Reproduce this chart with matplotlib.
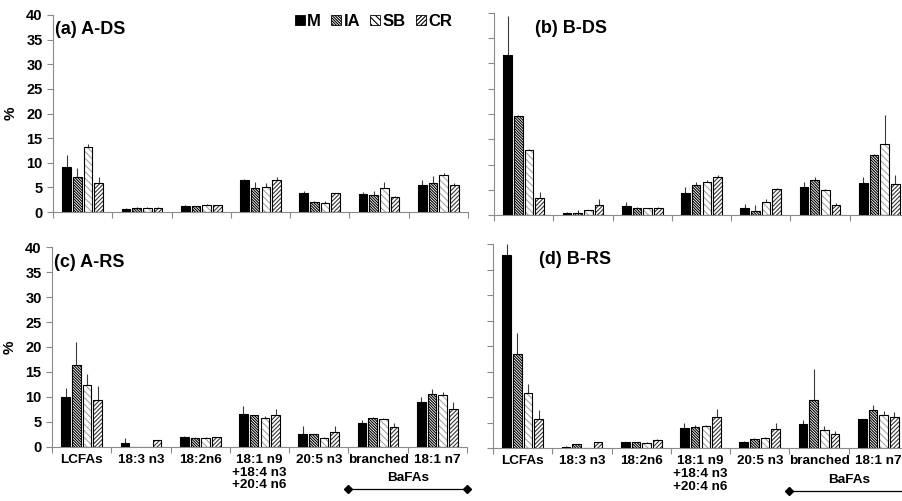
import numpy as np
import matplotlib.pyplot as plt
from matplotlib.patches import Patch

plt.rcParams['font.family'] = ['Liberation Sans', 'DejaVu Sans']
plt.rcParams['font.weight'] = 'bold'
plt.rcParams['hatch.linewidth'] = 0.8

# fatty acid groups on the x axis
categories = ['LCFAs', '18:3 n3', '18:2n6', '18:1 n9\n+18:4 n3\n+20:4 n6',
              '20:5 n3', 'branched', '18:1 n7']
series = ['M', 'IA', 'SB', 'CR']

# (a) A-DS
a_vals = {'M':  [9.2, 0.7, 1.3, 6.4, 3.8, 3.7, 5.4],
          'IA': [7.2, 0.9, 1.2, 4.8, 2.1, 3.5, 5.8],
          'SB': [13.1, 0.9, 1.4, 5.1, 1.8, 4.9, 7.6],
          'CR': [5.9, 0.9, 1.4, 6.5, 3.8, 3.1, 5.4]}
a_errs = {'M':  [2.4, 0.1, 0.2, 0.2, 0.5, 0.4, 1.0],
          'IA': [1.8, 0.1, 0.1, 1.3, 0.1, 0.8, 1.6],
          'SB': [0.7, 0.1, 0.2, 0.8, 0.4, 1.1, 0.4],
          'CR': [1.3, 0.1, 0.1, 0.6, 0.1, 0.1, 0.5]}

# (b) B-DS
b_vals = {'M':  [31.6, 0.4, 1.7, 4.3, 1.3, 5.6, 6.3],
          'IA': [19.7, 0.4, 1.4, 6.0, 0.7, 6.9, 11.9],
          'SB': [12.8, 0.9, 1.3, 6.6, 2.6, 5.0, 14.0],
          'CR': [3.3, 1.9, 1.4, 7.5, 5.2, 1.9, 6.1]}
b_errs = {'M':  [7.9, 0.1, 0.9, 1.2, 0.8, 0.9, 1.3],
          'IA': [0.2, 0.6, 0.1, 0.6, 1.3, 0.7, 0.1],
          'SB': [0.3, 0.1, 0.1, 0.4, 0.6, 0.1, 5.8],
          'CR': [1.3, 1.3, 0.1, 0.5, 0.1, 0.5, 1.8]}

# (c) A-RS
c_vals = {'M':  [9.9, 0.7, 1.9, 6.6, 2.5, 4.8, 8.9],
          'IA': [16.3, 0.0, 1.8, 6.3, 2.5, 5.7, 10.6],
          'SB': [12.4, 0.0, 1.8, 5.8, 1.8, 5.6, 10.3],
          'CR': [9.3, 1.3, 1.9, 6.4, 3.0, 3.9, 7.5]}
c_errs = {'M':  [1.9, 1.1, 0.2, 1.6, 1.6, 0.5, 1.0],
          'IA': [4.7, 0.0, 0.1, 0.1, 0.1, 0.2, 0.9],
          'SB': [2.2, 0.0, 0.1, 0.3, 0.1, 0.2, 0.7],
          'CR': [2.9, 0.1, 0.1, 1.2, 1.1, 0.9, 1.5]}

# (d) B-RS
d_vals = {'M':  [37.8, 0.2, 1.1, 3.9, 1.2, 4.7, 5.6],
          'IA': [18.4, 0.7, 1.1, 4.2, 1.8, 9.5, 7.5],
          'SB': [10.7, 0.0, 1.0, 4.4, 2.0, 3.5, 6.5],
          'CR': [5.6, 1.1, 1.6, 6.1, 3.7, 2.8, 6.0]}
d_errs = {'M':  [2.2, 0.1, 0.1, 1.1, 0.1, 0.7, 0.1],
          'IA': [4.1, 0.1, 0.1, 0.4, 0.1, 6.0, 1.0],
          'SB': [1.9, 0.0, 0.1, 0.1, 0.1, 0.9, 0.8],
          'CR': [1.8, 0.1, 0.1, 1.6, 1.3, 0.6, 1.0]}

# fill / hatch style per series
styles = {'M':  dict(fc='black', hatch=None, hc='black'),
          'IA': dict(fc='white', hatch='\\' * 12, hc='black'),
          'SB': dict(fc='white', hatch='\\' * 5, hc='#a8a8a8'),
          'CR': dict(fc='white', hatch='/' * 8, hc='#383838')}

axis_col = '#8a8a8a'
W = 903.0
H = 501.0


def px_axes(left, right, y0, y40):
    # pixel box -> figure fraction
    return [left / W, 1 - y0 / H, (right - left) / W, (y0 - y40) / H]


def draw_panel(ax, vals, errs, title, tx, show_labels, left_labels):
    x = np.arange(len(categories)) + 0.5
    step = 0.18
    for i, s in enumerate(series):
        xs = x + (i - 1.5) * step
        st = styles[s]
        ax.bar(xs, vals[s], width=0.145, color=st['fc'], edgecolor=st['hc'],
               hatch=st['hatch'], linewidth=0, zorder=2)
        ax.bar(xs, vals[s], width=0.145, fill=False, edgecolor='black',
               linewidth=0.8, zorder=3)
        ax.errorbar(xs, vals[s], yerr=[np.zeros(len(xs)), errs[s]], fmt='none',
                    ecolor='#3a3a3a', elinewidth=0.8, capsize=0, zorder=1)
    ax.set_xlim(0, 7)
    ax.set_ylim(0, 40)
    ax.set_yticks(np.arange(0, 41, 5))
    ax.set_xticks(np.arange(0, 8))
    ax.set_xticklabels([])
    ax.set_xticks(x, minor=True)
    if show_labels:
        ax.set_xticklabels(categories, minor=True, fontsize=9.7,
                           fontweight='bold', linespacing=1.1)
    ax.tick_params(axis='x', which='minor', length=0, pad=5)
    ax.tick_params(axis='x', which='major', length=4, color=axis_col, width=0.8)
    ax.tick_params(axis='y', length=4, color=axis_col, width=0.8,
                   labelsize=10.5, labelleft=left_labels)
    for lab in ax.get_yticklabels():
        lab.set_fontweight('bold')
    for sp in ['top', 'right']:
        ax.spines[sp].set_visible(False)
    for sp in ['left', 'bottom']:
        ax.spines[sp].set_color(axis_col)
        ax.spines[sp].set_linewidth(0.8)
    if left_labels:
        ax.set_ylabel('%', fontsize=11, fontweight='bold', labelpad=6)
    ax.text(tx, 0.925, title, transform=ax.transAxes, fontsize=13,
            fontweight='bold', va='center', ha='left')
    if show_labels:
        tr = ax.get_xaxis_transform()
        ax.plot([5, 7], [-0.212, -0.212], color='black', lw=0.9,
                marker='D', markersize=4, transform=tr, clip_on=False)
        ax.text(6, -0.158, 'BaFAs', transform=tr, ha='center', va='center',
                fontsize=9.7, fontweight='bold')


fig = plt.figure(figsize=(9.03, 5.01), dpi=100)
ax_a = fig.add_axes(px_axes(53, 468, 212, 15))
ax_b = fig.add_axes(px_axes(494, 909, 215, 13))
ax_c = fig.add_axes(px_axes(52, 467, 446.7, 247.3))
ax_d = fig.add_axes(px_axes(493, 908, 448, 244))

draw_panel(ax_a, a_vals, a_errs, '(a) A-DS', 0.005, False, True)
draw_panel(ax_b, b_vals, b_errs, '(b) B-DS', 0.10, False, False)
draw_panel(ax_c, c_vals, c_errs, '(c) A-RS', 0.005, True, True)
draw_panel(ax_d, d_vals, d_errs, '(d) B-RS', 0.11, True, False)

handles = [Patch(facecolor=styles[s]['fc'], edgecolor='black',
                 hatch=styles[s]['hatch'], linewidth=0.6) for s in series]
fig.legend(handles, series, loc='upper right', bbox_to_anchor=(464 / W, 1 - 2 / H),
           ncol=4, frameon=False, handlelength=0.6, handleheight=0.6,
           handletextpad=0.15, columnspacing=0.6, borderpad=0.2,
           prop={'weight': 'bold', 'size': 12})

fig.savefig('out.png', dpi=100)
